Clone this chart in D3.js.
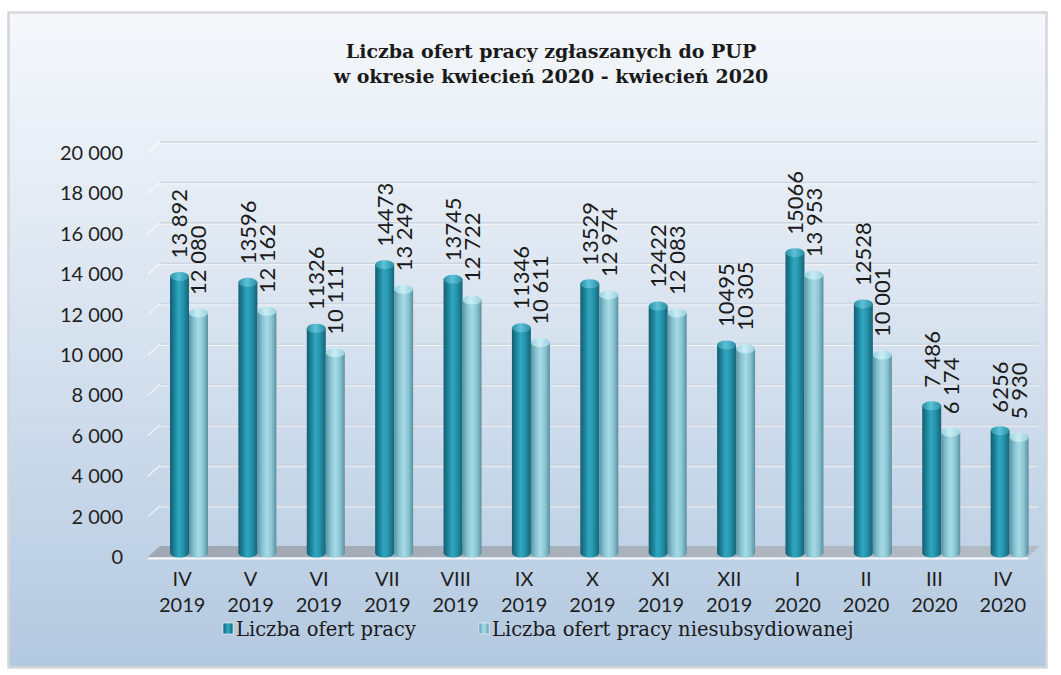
<!DOCTYPE html>
<html>
<head>
<meta charset="utf-8">
<script src="https://cdn.jsdelivr.net/npm/d3@7"></script>
<style>
    html, body { margin: 0; padding: 0; background: #ffffff; }
    svg { display: block; }
</style>
</head>
<body>
<svg class="chart-svg" width="1061" height="675"></svg>
<script>
// data
var months = ["IV", "V", "VI", "VII", "VIII", "IX", "X", "XI", "XII", "I", "II", "III", "IV"];
var years = ["2019", "2019", "2019", "2019", "2019", "2019", "2019", "2019", "2019", "2020", "2020", "2020", "2020"];
var offers = [13892, 13596, 11326, 14473, 13745, 11346, 13529, 12422, 10495, 15066, 12528, 7486, 6256];
var offersLabels = ["13 892", "13596", "11326", "14473", "13745", "11346", "13529", "12422", "10495", "15066", "12528", "7 486", "6256"];
var unsubsidised = [12080, 12162, 10111, 13249, 12722, 10611, 12974, 12083, 10305, 13953, 10001, 6174, 5930];
var unsubsidisedLabels = ["12 080", "12 162", "10 111", "13 249", "12 722", "10 611", "12 974", "12 083", "10 305", "13 953", "10 001", "6 174", "5 930"];
var yTicks = [0, 2000, 4000, 6000, 8000, 10000, 12000, 14000, 16000, 18000, 20000];
var seriesNames = ["Liczba ofert pracy", "Liczba ofert pracy niesubsydiowanej"];
var titleLines = ["Liczba ofert pracy zgłaszanych do PUP", "w okresie kwiecień 2020 - kwiecień 2020"];

var svg = d3.select("svg.chart-svg");
var defs = svg.append("defs");

var plot = { left: 148, right: 1037, top: 153, bottom: 557 };
var depth = { dx: 12, dy: 11 };
var barBase = 553;

var keys = months.map(function (m, i) { return i; });
var xScale = d3.scaleBand().domain(keys).range([plot.left, plot.right]).paddingInner(0).paddingOuter(0);
var xSeries = d3.scaleBand().domain([0, 1]).range([22, 60]);
var yScale = d3.scaleLinear().domain([0, 20000]).range([plot.bottom, plot.top]);

function linGrad(id, horizontal, stops) {
    var g = defs.append("linearGradient").attr("id", id)
        .attr("x1", 0).attr("y1", 0)
        .attr("x2", horizontal ? 1 : 0).attr("y2", horizontal ? 0 : 1);
    stops.forEach(function (s) {
        g.append("stop").attr("offset", s[0]).attr("stop-color", s[1]);
    });
}

linGrad("bg", false, [[0, "#f5f8fb"], [0.45, "#dae4f0"], [1, "#b3c9e0"]]);
linGrad("floor", true, [[0, "#9ea7b2"], [0.5, "#a9b1bb"], [1, "#b5bcc5"]]);
linGrad("dark", true, [[0, "#145f70"], [0.2, "#1b7d94"], [0.45, "#31a6c0"], [0.65, "#2898b1"], [1, "#136577"]]);
linGrad("light", true, [[0, "#5b93a3"], [0.25, "#86c2d1"], [0.5, "#a6dbe6"], [0.75, "#8ac4d2"], [1, "#5a8f9f"]]);
linGrad("darkCap", true, [[0, "#2a8ea5"], [0.45, "#5cc2d6"], [1, "#2a8ea5"]]);
linGrad("lightCap", true, [[0, "#98cfdc"], [0.45, "#c9eef5"], [1, "#98cfdc"]]);

// panel
svg.append("rect")
    .attr("x", 8.5).attr("y", 12.5)
    .attr("width", 1038).attr("height", 655)
    .attr("fill", "url(#bg)")
    .attr("stroke", "#d4d6d9").attr("stroke-width", 2.5);

// title
svg.append("g").selectAll("text")
    .data(titleLines)
    .enter().append("text")
    .attr("x", 551)
    .attr("y", function (d, i) { return 58 + i * 25; })
    .attr("text-anchor", "middle")
    .attr("font-family", "DejaVu Serif")
    .attr("font-weight", "bold")
    .attr("font-size", 19)
    .attr("fill", "#1a1a1a")
    .text(function (d) { return d; });

// back wall grid lines
var grid = svg.append("g").attr("class", "grid");
grid.selectAll("line.back")
    .data(yTicks.filter(function (t) { return t > 0; }))
    .enter().append("line")
    .attr("class", "back")
    .attr("x1", plot.left + depth.dx).attr("x2", plot.right + 1)
    .attr("y1", function (d) { return yScale(d) - depth.dy; })
    .attr("y2", function (d) { return yScale(d) - depth.dy; })
    .attr("stroke", "#cdd6e0").attr("stroke-width", 1.5);
grid.selectAll("line.hi")
    .data(yTicks.filter(function (t) { return t > 0; }))
    .enter().append("line")
    .attr("class", "hi")
    .attr("x1", plot.left + depth.dx).attr("x2", plot.right + 1)
    .attr("y1", function (d) { return yScale(d) - depth.dy + 1.5; })
    .attr("y2", function (d) { return yScale(d) - depth.dy + 1.5; })
    .attr("stroke", "#ffffff").attr("stroke-opacity", 0.6).attr("stroke-width", 1);
grid.selectAll("line.side")
    .data(yTicks.filter(function (t) { return t > 0; }))
    .enter().append("line")
    .attr("class", "side")
    .attr("x1", plot.left).attr("x2", plot.left + depth.dx)
    .attr("y1", function (d) { return yScale(d); })
    .attr("y2", function (d) { return yScale(d) - depth.dy; })
    .attr("stroke", "#ffffff").attr("stroke-opacity", 0.75).attr("stroke-width", 1.2);

// floor
var floorPts = [
    [plot.left, plot.bottom], [plot.right - 9, plot.bottom],
    [plot.right + 3, plot.bottom - depth.dy], [plot.left + depth.dx, plot.bottom - depth.dy]
];
svg.append("polygon")
    .attr("points", floorPts.map(function (p) { return p.join(","); }).join(" "))
    .attr("fill", "url(#floor)");
svg.append("line")
    .attr("x1", plot.left).attr("x2", plot.right - 9)
    .attr("y1", plot.bottom + 1.5).attr("y2", plot.bottom + 1.5)
    .attr("stroke", "#f4f6f9").attr("stroke-width", 2);

// y axis labels
var yAxis = d3.axisLeft(yScale)
    .tickValues(yTicks)
    .tickSize(0)
    .tickPadding(0)
    .tickFormat(function (d) { return d3.format(",")(d).replace(",", " "); });
var yAxisG = svg.append("g")
    .attr("class", "axis axis-y")
    .attr("transform", "translate(123,0)")
    .call(yAxis);
yAxisG.select(".domain").remove();
yAxisG.selectAll("text")
    .attr("font-family", "Lato").attr("font-size", 20).attr("fill", "#1f1f1f");

// x axis labels (month + year)
var xAxisG = svg.append("g").attr("class", "axis axis-x");
xAxisG.selectAll("text.month")
    .data(keys)
    .enter().append("text")
    .attr("class", "month")
    .attr("x", function (d) { return xScale(d) + xScale.bandwidth() / 2; })
    .attr("y", 586)
    .attr("text-anchor", "middle")
    .attr("font-family", "Lato").attr("font-size", 20).attr("fill", "#1f1f1f")
    .text(function (d) { return months[d]; });
xAxisG.selectAll("text.year")
    .data(keys)
    .enter().append("text")
    .attr("class", "year")
    .attr("x", function (d) { return xScale(d) + xScale.bandwidth() / 2; })
    .attr("y", 612)
    .attr("text-anchor", "middle")
    .attr("font-family", "Lato").attr("font-size", 20).attr("fill", "#1f1f1f")
    .text(function (d) { return years[d]; });

// cylinders
var series = [
    { values: offers, labels: offersLabels, body: "url(#dark)", cap: "url(#darkCap)" },
    { values: unsubsidised, labels: unsubsidisedLabels, body: "url(#light)", cap: "url(#lightCap)" }
];
var capRy = 4.5;

series.forEach(function (s, si) {
    var g = svg.append("g").attr("class", "series-" + si);
    var w = xSeries.bandwidth();
    var bars = g.selectAll("g.bar")
        .data(keys)
        .enter().append("g")
        .attr("class", "bar")
        .attr("transform", function (d) { return "translate(" + (xScale(d) + xSeries(si)) + ",0)"; });

    bars.append("ellipse")
        .attr("cx", w / 2).attr("cy", barBase)
        .attr("rx", w / 2).attr("ry", capRy)
        .attr("fill", s.body);
    bars.append("rect")
        .attr("x", 0).attr("width", w)
        .attr("y", function (d) { return yScale(s.values[d]); })
        .attr("height", function (d) { return barBase - yScale(s.values[d]); })
        .attr("fill", s.body);
    bars.append("ellipse")
        .attr("cx", w / 2)
        .attr("cy", function (d) { return yScale(s.values[d]); })
        .attr("rx", w / 2).attr("ry", capRy)
        .attr("fill", s.cap);

    bars.append("text")
        .attr("transform", function (d) {
            return "translate(" + (w / 2) + "," + (yScale(s.values[d]) - 18) + ") rotate(-90)";
        })
        .attr("dy", "0.36em")
        .attr("text-anchor", "start")
        .attr("font-family", "Lato").attr("font-size", 22).attr("fill", "#1a1a1a")
        .text(function (d) { return s.labels[d]; });
});

// legend
var legendX = [228, 484];
var legend = svg.append("g").attr("class", "legend");
var items = legend.selectAll("g.item")
    .data(seriesNames)
    .enter().append("g")
    .attr("class", "item")
    .attr("transform", function (d, i) { return "translate(" + legendX[i] + ",629)"; });
items.append("rect")
    .attr("x", -5).attr("y", -6)
    .attr("width", 10).attr("height", 11)
    .attr("fill", function (d, i) { return series[i].body; })
    .attr("stroke", "#ffffff").attr("stroke-width", 0.6);
items.append("text")
    .attr("x", 8).attr("y", 7)
    .attr("font-family", "DejaVu Serif").attr("font-size", 19.5).attr("fill", "#1a1a1a")
    .text(function (d) { return d; });
</script>
</body>
</html>
